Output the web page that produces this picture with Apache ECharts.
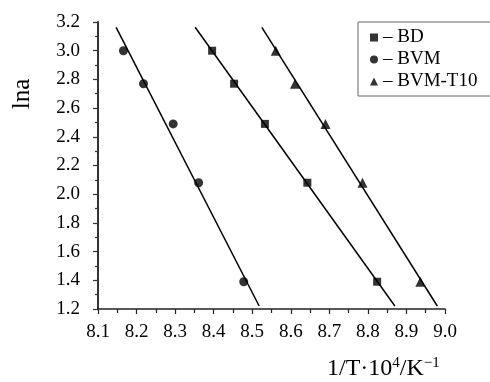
<!DOCTYPE html>
<html>
<head>
<meta charset="utf-8">
<script src="https://cdn.jsdelivr.net/npm/echarts@6/dist/echarts.min.js"></script>
<style>html,body{margin:0;padding:0;background:#fff}#c{width:490px;height:382px}</style>
</head>
<body>
<div id="c"></div>
<script>
// Data
var seriesNames = ['– BD', '– BVM', '– BVM-T10'];
var lnaValues = [3.00, 2.77, 2.49, 2.08, 1.39];
var xBD = [8.396, 8.453, 8.533, 8.643, 8.824];
var xBVM = [8.166, 8.218, 8.295, 8.361, 8.478];
var xT10 = [8.561, 8.611, 8.690, 8.786, 8.936];
// fitted line endpoints [x, y]
var fitBD = [[8.352, 3.163], [8.870, 1.221]];
var fitBVM = [[8.147, 3.163], [8.518, 1.221]];
var fitT10 = [[8.525, 3.163], [8.980, 1.221]];
var xTicks = {min: 8.1, max: 9.0, interval: 0.1};
var yTicks = {min: 1.2, max: 3.2, interval: 0.2};
var yName = 'lna';

function pts(xs) { return xs.map(function (x, i) { return [x, lnaValues[i]]; }); }

var FONT = '"Liberation Serif", "DejaVu Serif", serif';
var chart = echarts.init(document.getElementById('c'), null, {renderer: 'canvas'});

function lineSeries(d) {
  return {type: 'line', data: d, symbol: 'none', silent: true,
    lineStyle: {color: '#000', width: 1.5}, z: 1};
}
var option = {
  animation: false,
  backgroundColor: '#fff',
  grid: {left: 98, top: 22, right: 45, bottom: 73},
  legend: {
    orient: 'vertical', left: 358, top: 22,
    data: [
      {name: seriesNames[0], icon: 'rect'},
      {name: seriesNames[1], icon: 'circle'},
      {name: seriesNames[2], icon: 'triangle'}
    ],
    itemWidth: 8, itemHeight: 8, itemGap: 3,
    borderColor: '#666', borderWidth: 1,
    padding: [6, 26, 5, 12],
    textStyle: {fontFamily: FONT, fontSize: 19, lineHeight: 19, color: '#000', padding: [0, 0, 0, 0]},
    selectedMode: false
  },
  xAxis: {
    type: 'value', min: xTicks.min, max: xTicks.max, interval: xTicks.interval,
    axisLine: {show: true, onZero: false, lineStyle: {color: '#222', width: 1.5}},
    axisTick: {show: true, length: 5, lineStyle: {color: '#222', width: 1.2}},
    minorTick: {show: true, splitNumber: 2, length: 4, lineStyle: {color: '#222', width: 1.2}},
    splitLine: {show: false},
    axisLabel: {fontFamily: FONT, fontSize: 19, color: '#000', margin: 14,
      formatter: function (v) { return v.toFixed(1); }}
  },
  yAxis: {
    type: 'value', min: yTicks.min, max: yTicks.max, interval: yTicks.interval,
    axisLine: {show: true, onZero: false, lineStyle: {color: '#333', width: 2}},
    axisTick: {show: true, length: 5, lineStyle: {color: '#333', width: 1.2}},
    minorTick: {show: true, splitNumber: 2, length: 3, lineStyle: {color: '#333', width: 1.2}},
    splitLine: {show: false},
    axisLabel: {fontFamily: FONT, fontSize: 19, color: '#000', margin: 18,
      formatter: function (v) { return v.toFixed(1); }}
  },
  graphic: [{
    type: 'text', left: 327, top: 356,
    style: {
      text: '1/T·10{sup|4}/K{sup|−1}',
      fontFamily: FONT, fontSize: 24, fill: '#000',
      rich: {sup: {fontFamily: FONT, fontSize: 15, fill: '#000', padding: [0, 0, 11, 0]}}
    }
  }, {
    type: 'text', x: 22, y: 94, rotation: Math.PI / 2,
    style: {
      text: yName, fontFamily: FONT, fontSize: 25, fill: '#000',
      align: 'center', verticalAlign: 'middle'
    }
  }],
  series: [
    lineSeries(fitBD), lineSeries(fitBVM), lineSeries(fitT10),
    {name: seriesNames[0], type: 'scatter', data: pts(xBD), symbol: 'rect', symbolSize: 8,
      itemStyle: {color: '#000'}, z: 3},
    {name: seriesNames[1], type: 'scatter', data: pts(xBVM), symbol: 'circle', symbolSize: 9,
      itemStyle: {color: '#000'}, z: 3},
    {name: seriesNames[2], type: 'scatter', data: pts(xT10), symbol: 'triangle', symbolSize: 10,
      itemStyle: {color: '#000'}, z: 3}
  ]
};
chart.setOption(option);
</script>
</body>
</html>
